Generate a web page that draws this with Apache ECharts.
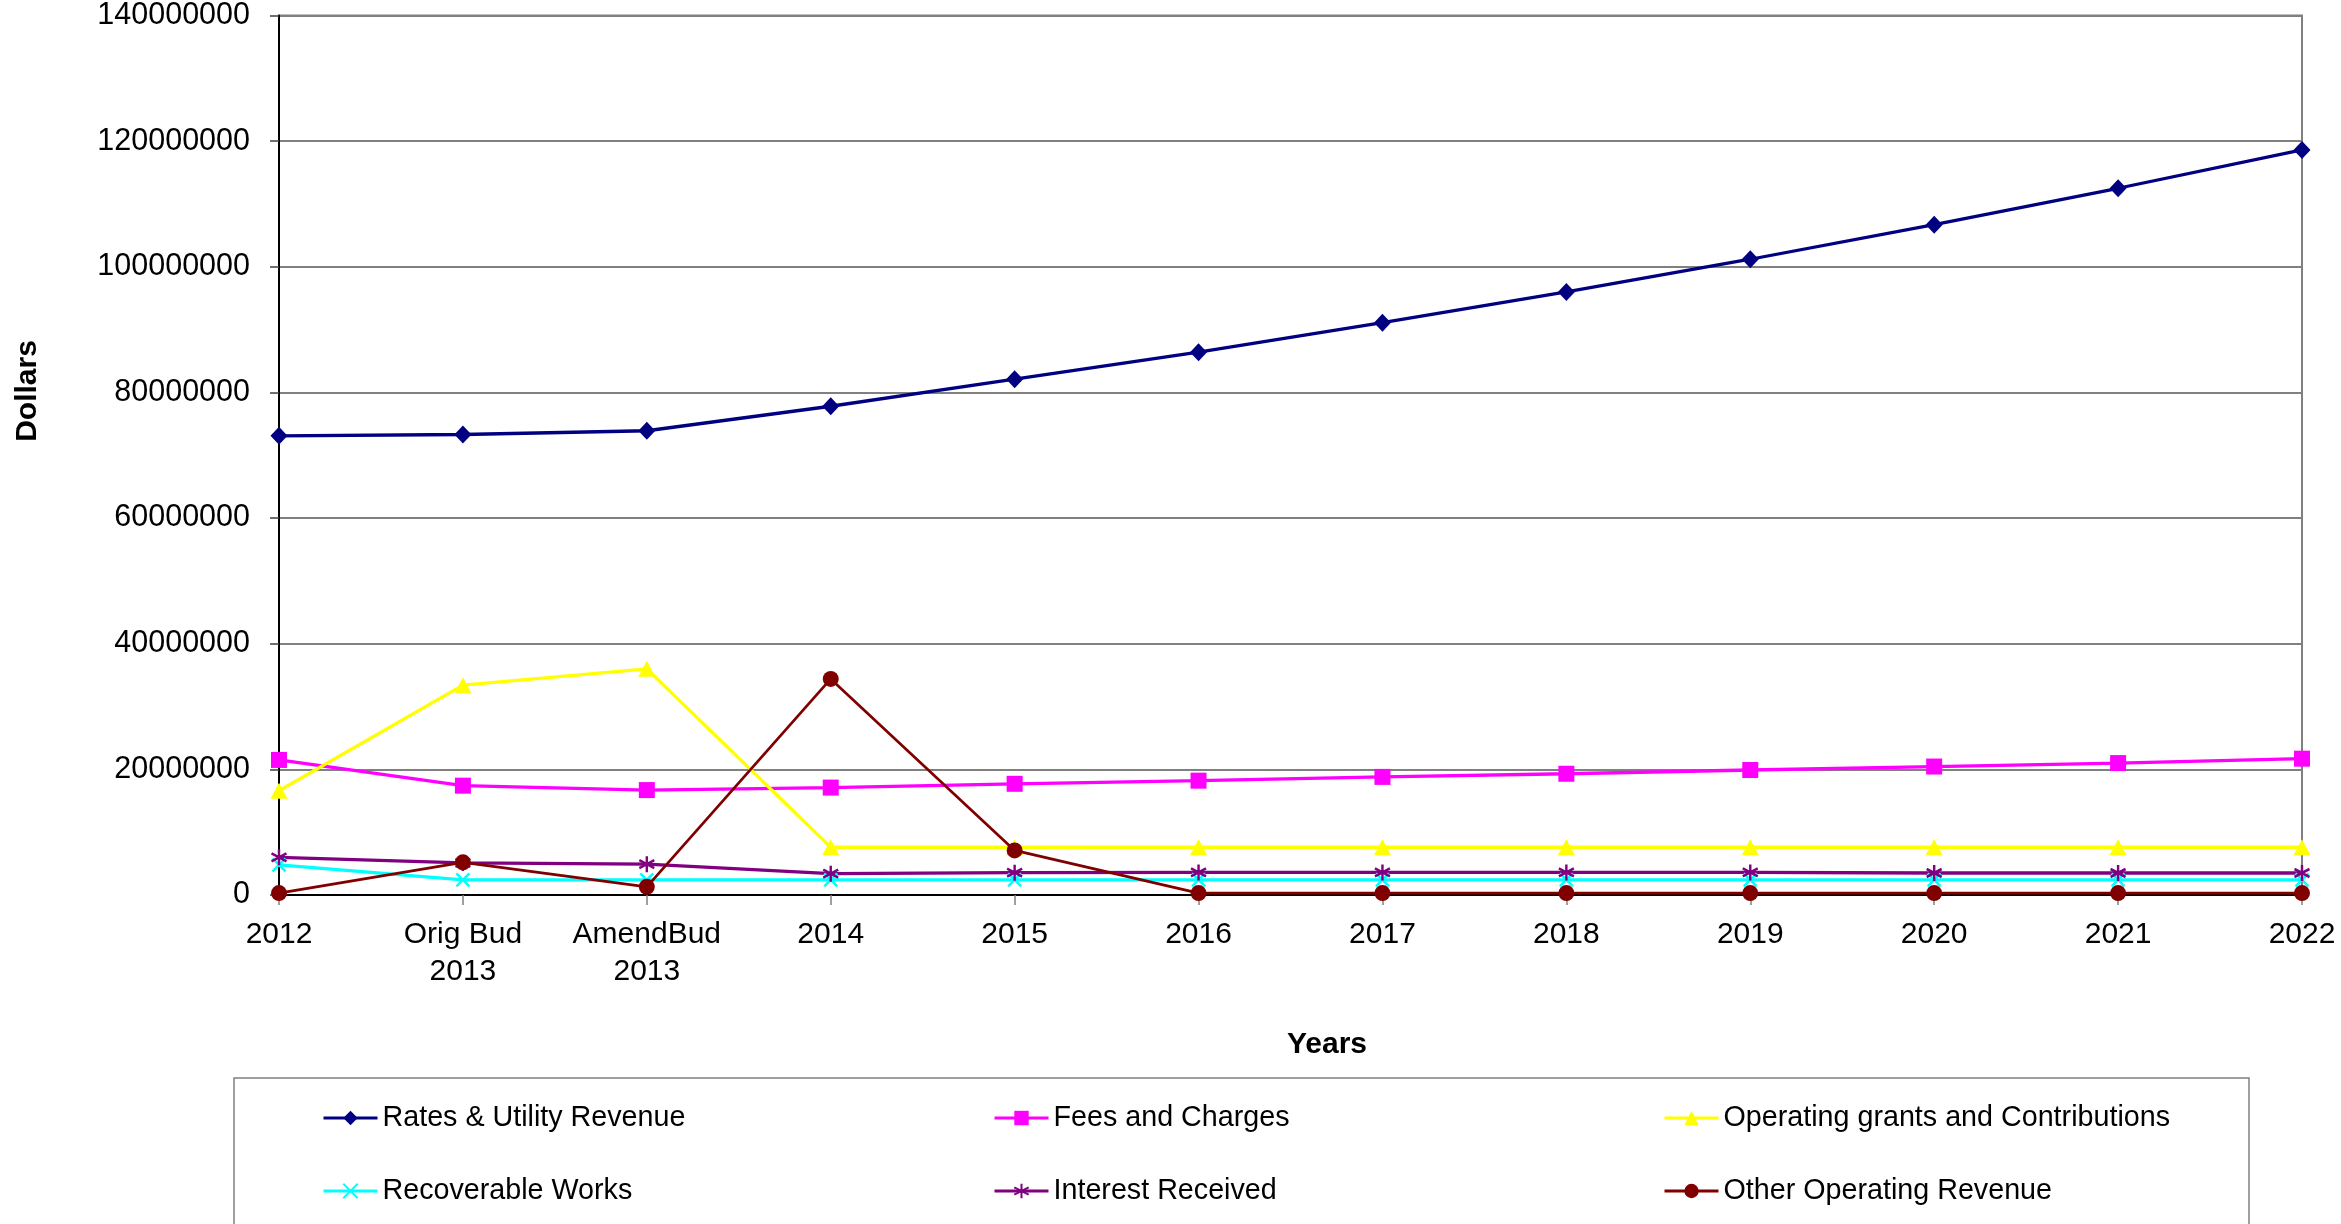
<!DOCTYPE html>
<html>
<head>
<meta charset="utf-8">
<script src="https://cdn.jsdelivr.net/npm/echarts@6/dist/echarts.min.js"></script>
<style>
  html, body { margin: 0; padding: 0; background: #ffffff; }
  #chart { width: 2341px; height: 1224px; }
</style>
</head>
<body>
<div id="chart"></div>
<script>
// Revenue categories (actuals, budgets and forecast years)
const years = ['2012', 'Orig Bud\n2013', 'AmendBud\n2013', '2014', '2015', '2016', '2017', '2018', '2019', '2020', '2021', '2022'];

// Revenue streams in dollars
const ratesUtility = [73100000, 73300000, 73900000, 77800000, 82100000, 86400000, 91100000, 96000000, 101200000, 106700000, 112500000, 118600000];
const feesCharges = [21500000, 17400000, 16700000, 17100000, 17700000, 18200000, 18800000, 19300000, 19900000, 20450000, 21000000, 21700000];
const operatingGrants = [16600000, 33400000, 36000000, 7600000, 7600000, 7600000, 7600000, 7600000, 7600000, 7600000, 7600000, 7600000];
const recoverableWorks = [4800000, 2400000, 2400000, 2400000, 2400000, 2400000, 2400000, 2400000, 2400000, 2400000, 2400000, 2400000];
const interestReceived = [6000000, 5100000, 4900000, 3400000, 3550000, 3600000, 3600000, 3600000, 3600000, 3500000, 3500000, 3500000];
const otherOperating = [300000, 5200000, 1300000, 34400000, 7100000, 300000, 300000, 300000, 300000, 300000, 300000, 300000];

// Y axis ticks
const yMin = 0, yMax = 140000000, yStep = 20000000;

const FONT = '"Liberation Sans", Arial, sans-serif';

const starPath = 'path://M0,-10L0,10M-8.66,-5L8.66,5M-8.66,5L8.66,-5';
const crossPath = 'path://M-10,-10L10,10M-10,10L10,-10';

function lineSeries(name, data, color, symbol, size, width, stroked) {
  return {
    name: name,
    type: 'line',
    data: data,
    symbol: symbol,
    symbolSize: size,
    showAllSymbol: true,
    lineStyle: { color: color, width: width },
    itemStyle: stroked
      ? { color: color, borderColor: color, borderWidth: 2.5 }
      : { color: color, borderWidth: 0 },
    emphasis: { disabled: true }
  };
}

const series = [
  lineSeries('Rates & Utility Revenue', ratesUtility, '#000080', 'diamond', [17, 18], 3.3, false),
  lineSeries('Fees and Charges', feesCharges, '#FF00FF', 'rect', [16, 16], 3.3, false),
  lineSeries('Operating grants and Contributions', operatingGrants, '#FFFF00', 'triangle', [17, 16], 3.3, false),
  lineSeries('Recoverable Works', recoverableWorks, '#00FFFF', crossPath, [13, 13], 3.3, true),
  lineSeries('Interest Received', interestReceived, '#800080', starPath, [15, 16], 3.3, true),
  lineSeries('Other Operating Revenue', otherOperating, '#800000', 'circle', [16, 16], 2.7, false)
];

// Legend laid out as a 3 x 2 grid, one legend block per entry
const legendCols = [322, 993, 1663];
const legendRows = [1101, 1174];
const legendOrder = [
  ['Rates & Utility Revenue', 0, 0],
  ['Fees and Charges', 1, 0],
  ['Operating grants and Contributions', 2, 0],
  ['Recoverable Works', 0, 1],
  ['Interest Received', 1, 1],
  ['Other Operating Revenue', 2, 1]
];
const legends = legendOrder.map(([name, c, r]) => ({
  data: [name],
  left: legendCols[c],
  top: legendRows[r],
  padding: 0,
  itemWidth: 54,
  itemHeight: 18,
  selectedMode: false,
  lineStyle: { width: 3 },
  textStyle: { fontFamily: FONT, fontSize: 28.7, color: '#000', lineHeight: 34 }
}));

const chart = echarts.init(document.getElementById('chart'), null, { renderer: 'canvas' });

chart.setOption({
  animation: false,
  backgroundColor: '#ffffff',
  grid: {
    left: 279, right: 39, top: 15, height: 880,
    show: true, borderColor: '#808080', borderWidth: 2, backgroundColor: 'transparent'
  },
  legend: legends,
  xAxis: {
    type: 'category',
    data: years,
    boundaryGap: false,
    axisLine: { show: true, lineStyle: { color: '#000', width: 2 } },
    axisTick: { show: true, alignWithLabel: true, length: 10, lineStyle: { color: '#808080', width: 1.5 } },
    axisLabel: { color: '#000', fontFamily: FONT, fontSize: 30, lineHeight: 37, margin: 21, interval: 0 },
    splitLine: { show: false }
  },
  yAxis: {
    type: 'value',
    min: yMin, max: yMax, interval: yStep,
    axisLine: { show: true, lineStyle: { color: '#000', width: 2 } },
    axisTick: { show: true, length: 9, lineStyle: { color: '#404040', width: 1.5 } },
    axisLabel: { color: '#000', fontFamily: FONT, fontSize: 30.5, margin: 29, formatter: v => String(v) },
    splitLine: { show: true, lineStyle: { color: '#808080', width: 2 } }
  },
  graphic: [
    {
      type: 'text',
      x: 28, y: 391,
      rotation: Math.PI / 2,
      style: {
        text: 'Dollars', fill: '#000', font: 'bold 30px ' + FONT,
        textAlign: 'center', textVerticalAlign: 'middle'
      }
    },
    {
      type: 'text',
      x: 1327, y: 1045,
      style: {
        text: 'Years', fill: '#000', font: 'bold 30px ' + FONT,
        textAlign: 'center', textVerticalAlign: 'middle'
      }
    },
    {
      type: 'rect',
      shape: { x: 234, y: 1078, width: 2015, height: 200 },
      style: { fill: 'none', stroke: '#808080', lineWidth: 1.5 },
      z: -1
    }
  ],
  series: series
});
</script>
</body>
</html>
